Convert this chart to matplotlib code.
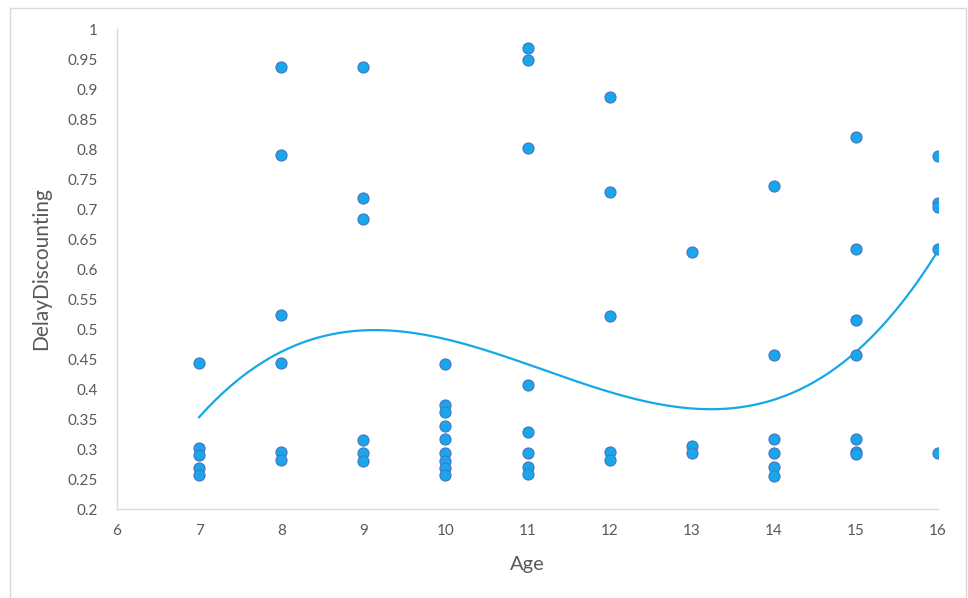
import matplotlib.pyplot as plt
import numpy as np
from matplotlib.patches import Rectangle

plt.rcParams['font.family'] = ['Lato', 'DejaVu Sans']

# data
age_7 = [0.443, 0.302, 0.290, 0.268, 0.257]
age_8 = [0.937, 0.790, 0.523, 0.443, 0.295, 0.282]
age_9 = [0.937, 0.718, 0.683, 0.315, 0.293, 0.280]
age_10 = [0.442, 0.373, 0.362, 0.338, 0.317, 0.293, 0.280, 0.268, 0.257]
age_11 = [0.968, 0.948, 0.802, 0.407, 0.329, 0.293, 0.270, 0.258]
age_12 = [0.887, 0.728, 0.522, 0.295, 0.281]
age_13 = [0.628, 0.305, 0.293]
age_14 = [0.738, 0.457, 0.317, 0.293, 0.270, 0.255]
age_15 = [0.820, 0.633, 0.515, 0.457, 0.317, 0.295, 0.292]
age_16 = [0.788, 0.710, 0.703, 0.633, 0.293]

# trendline values
trend_x = [7, 8, 9.1, 10, 11, 12, 13, 14, 15, 16]
trend_y = [0.352, 0.465, 0.497, 0.482, 0.440, 0.398, 0.365, 0.387, 0.457, 0.632]

groups = {7: age_7, 8: age_8, 9: age_9, 10: age_10, 11: age_11,
          12: age_12, 13: age_13, 14: age_14, 15: age_15, 16: age_16}

ages = np.concatenate([[a] * len(v) for a, v in groups.items()])
delay = np.concatenate([v for v in groups.values()])

fig = plt.figure(figsize=(9.68, 5.98), dpi=100)
ax = fig.add_axes([0.1209, 0.1488, 0.8481, 0.8027])

# outer chart border
fig.patches.append(Rectangle((10 / 968, -0.01), 956 / 968, 1 - 8 / 598 + 0.01,
                             transform=fig.transFigure, fill=False,
                             edgecolor='#d9d9d9', linewidth=1))

ax.scatter(ages, delay, s=64, color='#19a6ea', edgecolors='#4a74c4',
           linewidths=0.8, zorder=3)

# smooth polynomial trendline through the read values
coef = np.polyfit(trend_x, trend_y, 4)
xs = np.linspace(7, 16, 300)
ax.plot(xs, np.polyval(coef, xs), color='#14a8e6', linewidth=1.6, zorder=2)

ax.set_xlim(6, 16)
ax.set_ylim(0.2, 1)
ax.set_xticks(range(6, 17))
yt = np.round(np.arange(0.2, 1.0001, 0.05), 2)
ax.set_yticks(yt)
ax.set_yticklabels([('%g' % v) for v in yt])

for s in ['top', 'right']:
    ax.spines[s].set_visible(False)
for s in ['left', 'bottom']:
    ax.spines[s].set_color('#d9d9d9')
    ax.spines[s].set_linewidth(1)
ax.tick_params(length=0, labelsize=11, colors='#595959')
ax.tick_params(axis='y', pad=14)
ax.tick_params(axis='x', pad=11)

ax.set_xlabel('Age', fontsize=14.5, color='#595959', labelpad=13)
ax.set_ylabel('DelayDiscounting', fontsize=15, color='#595959', labelpad=12)

fig.savefig('out.png', dpi=100)
